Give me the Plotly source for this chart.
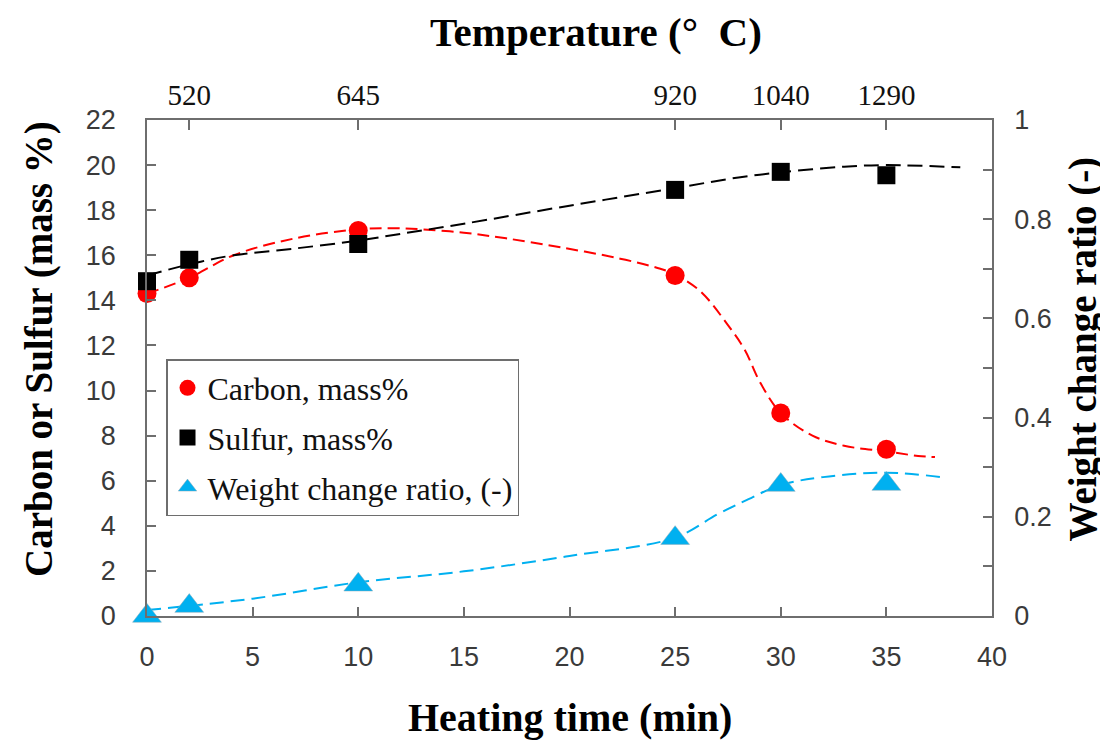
import plotly.graph_objects as go

# ---- data ----
time_min = [0, 2, 10, 25, 30, 35]
carbon = [14.3, 15.0, 17.1, 15.1, 9.0, 7.4]
sulfur = [14.85, 15.8, 16.5, 18.9, 19.7, 19.55]
weight_ratio = [0.0, 0.02, 0.063, 0.157, 0.264, 0.266]

# trend curves
carbon_fit_x = [0, 2, 4.1, 7, 10, 11.5, 13, 15, 17, 19.6, 22.4, 24.3, 25, 26.2, 27.5, 28.3, 29, 30, 31.5, 33, 35, 36.5, 37.3]
carbon_fit_y = [14.3, 15.0, 16.0, 16.75, 17.15, 17.2, 17.15, 17.0, 16.75, 16.35, 15.85, 15.4, 15.15, 14.4, 12.9, 11.8, 10.4, 9.0, 8.0, 7.55, 7.3, 7.1, 7.05]
sulfur_fit_x = [0, 2, 4.1, 7, 10, 12, 15, 20, 25, 28, 30, 33, 35, 38.5]
sulfur_fit_y = [15.1, 15.6, 16.0, 16.3, 16.65, 16.95, 17.4, 18.2, 18.98, 19.45, 19.68, 19.93, 20.0, 19.9]
weight_fit_x = [0, 5, 10, 15, 20, 25, 27, 28.3, 30, 32, 35, 37.6]
weight_fit_y = [0.012, 0.035, 0.068, 0.09, 0.121, 0.158, 0.205, 0.232, 0.264, 0.28, 0.289, 0.28]

temp_pos = [2, 10, 25, 30, 35]
temp_labels = ["520", "645", "920", "1040", "1290"]

RED = "#FF0000"
BLACK = "#000000"
BLUE = "#00B0F0"
AXIS = "#6e6e6e"
TICKFONT = dict(family="Liberation Sans, Arial, sans-serif", size=27, color="#3a3a3a")
SERIF = "Liberation Serif, Times New Roman, serif"

fig = go.Figure()

# fitted curves
fig.add_trace(go.Scatter(x=carbon_fit_x, y=carbon_fit_y, mode="lines", line=dict(color=RED, width=2, dash="12px,6px", shape="spline"),
                         showlegend=False, hoverinfo="skip"))
fig.add_trace(go.Scatter(x=sulfur_fit_x, y=sulfur_fit_y, mode="lines", line=dict(color=BLACK, width=2, dash="15px,7px", shape="spline"),
                         showlegend=False, hoverinfo="skip"))
fig.add_trace(go.Scatter(x=weight_fit_x, y=weight_fit_y, mode="lines", yaxis="y2", line=dict(color=BLUE, width=2, dash="14px,7px", shape="spline"),
                         showlegend=False, hoverinfo="skip"))

# markers
fig.add_trace(go.Scatter(x=time_min, y=carbon, mode="markers", name="Carbon, mass%", legendgroup="c",
                         marker=dict(symbol="circle", size=19, color=RED), cliponaxis=False))
fig.add_trace(go.Scatter(x=time_min, y=sulfur, mode="markers", name="Sulfur, mass%", legendgroup="s",
                         marker=dict(symbol="square", size=18, color=BLACK), cliponaxis=False))
fig.add_trace(go.Scatter(x=time_min, y=weight_ratio, mode="markers", name="Weight change ratio, (-)", legendgroup="w", yaxis="y2",
                         marker=dict(symbol="triangle-up", size=25, color=BLUE, line=dict(color="#8fa9b5", width=0.5)), cliponaxis=False))

# invisible trace to activate the top axis
fig.add_trace(go.Scatter(x=[0, 40], y=[None, None], xaxis="x2", mode="markers", showlegend=False, hoverinfo="skip"))

fig.update_layout(
    width=1100, height=734,
    margin=dict(l=139, r=116, t=112, b=126),
    paper_bgcolor="white", plot_bgcolor="white",
    showlegend=True,
    legend=dict(x=0.0225, y=0.518, xanchor="left", yanchor="top",
                bordercolor=AXIS, borderwidth=1.5, bgcolor="white",
                font=dict(family=SERIF, size=32, color="#111"),
                tracegroupgap=5, traceorder="grouped"),
    xaxis=dict(range=[0, 40], dtick=5, tick0=0, showgrid=False, zeroline=False,
               showline=True, linecolor=AXIS, linewidth=1.5,
               ticks="inside", ticklen=9, tickwidth=1.5, tickcolor=AXIS,
               tickfont=TICKFONT, ticklabelstandoff=16),
    xaxis2=dict(range=[0, 40], overlaying="x", side="top", tickmode="array",
                tickvals=temp_pos, ticktext=temp_labels, showgrid=False, zeroline=False,
                showline=True, linecolor=AXIS, linewidth=1.5,
                ticks="inside", ticklen=10, tickwidth=1.5, tickcolor=AXIS,
                tickfont=dict(family=SERIF, size=29, color="#111"), ticklabelstandoff=2),
    yaxis=dict(range=[0, 22], dtick=2, tick0=0, showgrid=False, zeroline=False,
               showline=True, linecolor=AXIS, linewidth=1.5,
               ticks="inside", ticklen=9, tickwidth=1.5, tickcolor=AXIS,
               tickfont=TICKFONT, ticklabelstandoff=24),
    yaxis2=dict(range=[0, 1], dtick=0.2, tick0=0, overlaying="y", side="right",
                showgrid=False, zeroline=False,
                showline=True, linecolor=AXIS, linewidth=1.5,
                ticks="inside", ticklen=9, tickwidth=1.5, tickcolor=AXIS,
                minor=dict(dtick=0.1, ticks="inside", ticklen=9, tickwidth=1.5, tickcolor=AXIS),
                tickfont=TICKFONT, ticklabelstandoff=15),
)

fig.add_annotation(text="<b>Heating time (min)</b>", xref="paper", yref="paper", x=0.5, y=-0.2056,
                   xanchor="center", yanchor="middle", showarrow=False,
                   font=dict(family=SERIF, size=40, color="black"))
fig.add_annotation(text="<b>Temperature (°  C)</b>", xref="paper", yref="paper", x=0.531, y=1.177,
                   xanchor="center", yanchor="middle", showarrow=False,
                   font=dict(family=SERIF, size=41, color="black"))
fig.add_annotation(text="<b>Carbon or Sulfur (mass %)</b>", xref="paper", yref="paper", x=-0.128, y=0.538,
                   xanchor="center", yanchor="middle", showarrow=False, textangle=-90,
                   font=dict(family=SERIF, size=39, color="black"))
fig.add_annotation(text="<b>Weight change ratio (-)</b>", xref="paper", yref="paper", x=1.108, y=0.538,
                   xanchor="center", yanchor="middle", showarrow=False, textangle=-90,
                   font=dict(family=SERIF, size=39, color="black"))

fig.write_html("out.html")
